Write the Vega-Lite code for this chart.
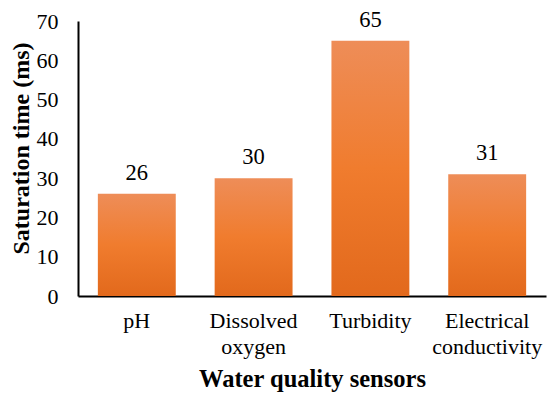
{
  "$schema": "https://vega.github.io/schema/vega-lite/v6.json",
  "width": 468,
  "height": 275,
  "autosize": {"type": "none"},
  "padding": {"left": 78, "top": 21, "right": 4, "bottom": 102},
  "background": "white",
  "config": {
    "view": {"stroke": null},
    "font": "Liberation Serif",
    "axis": {"labelFont": "Liberation Serif", "titleFont": "Liberation Serif", "labelColor": "black", "titleColor": "black"},
    "text": {"font": "Liberation Serif"}
  },
  "data": {
    "values": [
      {"sensor": "pH", "time": 26},
      {"sensor": "Dissolved oxygen", "time": 30},
      {"sensor": "Turbidity", "time": 65},
      {"sensor": "Electrical conductivity", "time": 31}
    ]
  },
  "encoding": {
    "x": {
      "field": "sensor", "type": "nominal", "sort": null,
      "scale": {"paddingInner": 0.333, "paddingOuter": 0.17},
      "axis": {
        "title": "Water quality sensors",
        "titleFontSize": 24.5, "titleFontWeight": "bold", "titlePadding": 10,
        "labelFontSize": 22, "labelAngle": 0, "labelPadding": 14,
        "labelExpr": "split(datum.label, ' ')", "labelLineHeight": 26,
        "ticks": false, "grid": false,
        "domainColor": "black", "domainWidth": 2
      }
    },
    "y": {
      "field": "time", "type": "quantitative",
      "scale": {"domain": [0, 70]},
      "axis": {
        "title": "Saturation time (ms)",
        "titleFontSize": 24, "titleFontWeight": "bold", "titlePadding": 3, "titleY": 127,
        "labelFontSize": 22, "labelPadding": 20,
        "values": [0, 10, 20, 30, 40, 50, 60, 70],
        "ticks": false, "grid": false,
        "domainColor": "black", "domainWidth": 2
      }
    }
  },
  "layer": [
    {
      "mark": {
        "type": "bar",
        "color": {
          "gradient": "linear", "x1": 0, "x2": 0, "y1": 0, "y2": 1,
          "stops": [
            {"offset": 0, "color": "#EE8D58"},
            {"offset": 0.5, "color": "#F07C2E"},
            {"offset": 1, "color": "#E2691C"}
          ]
        }
      }
    },
    {
      "mark": {"type": "text", "fontSize": 22.5, "baseline": "alphabetic", "dy": -14, "color": "black", "font": "Liberation Serif"},
      "encoding": {"text": {"field": "time", "type": "quantitative"}}
    }
  ]
}
